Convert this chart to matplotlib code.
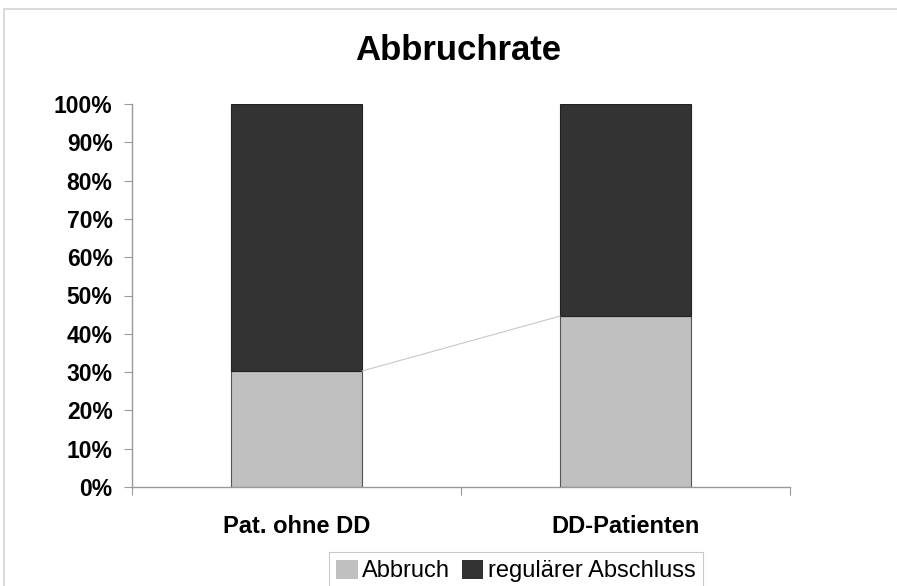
import matplotlib
matplotlib.use("Agg")
import matplotlib.pyplot as plt
from matplotlib.patches import Rectangle, Patch
from matplotlib.ticker import FuncFormatter

plt.rcParams["font.family"] = ["Liberation Sans", "DejaVu Sans"]

# data (share in %)
categories = ["Pat. ohne DD", "DD-Patienten"]
abbruch = [30.3, 44.6]
regulaer = [69.7, 55.4]
series_names = ["Abbruch", "regulärer Abschluss"]
colors = ["#c0c0c0", "#333333"]

W, H = 897, 586
fig = plt.figure(figsize=(W / 100, H / 100), dpi=100)

# outer chart frame
fig.patches.append(Rectangle((4 / W, -0.1), 1.2, 1 - 9 / H + 0.1,
                             transform=fig.transFigure, fill=False,
                             edgecolor="#d4d4d4", linewidth=1.2))

ax = fig.add_axes([132 / W, 1 - 487 / H, 658 / W, 383 / H])
x = range(len(categories))
width = 0.4
ax.bar(x, abbruch, width, color=colors[0], edgecolor="#555555", linewidth=0.8)
ax.bar(x, regulaer, width, bottom=abbruch, color=colors[1],
       edgecolor="#222222", linewidth=0.8)

# series line between the bars
ax.plot([0 + width / 2, 1 - width / 2], abbruch, color="#c8c8c8", linewidth=0.8)

ax.set_xlim(-0.5, 1.5)
ax.set_ylim(0, 100)
ax.set_yticks(range(0, 101, 10))
ax.yaxis.set_major_formatter(FuncFormatter(lambda v, p: f"{int(v)}%"))
ax.set_xticks([-0.5, 0.5, 1.5])
ax.set_xticklabels([])
ax.set_xticks(list(x), minor=True)
ax.set_xticklabels(categories, minor=True, fontsize=17, fontweight="bold")
ax.tick_params(axis="x", which="minor", length=0, pad=20)
ax.tick_params(axis="x", which="major", length=6, color="#999999", direction="out")
ax.tick_params(axis="y", length=6, color="#999999", labelsize=16.5, pad=8)
for lbl in ax.get_yticklabels():
    lbl.set_fontweight("bold")

for side in ["top", "right"]:
    ax.spines[side].set_visible(False)
for side in ["left", "bottom"]:
    ax.spines[side].set_color("#999999")
    ax.spines[side].set_linewidth(1.0)

fig.text(458 / W, 1 - 50 / H, "Abbruchrate", ha="center", va="center",
         fontsize=25, fontweight="bold")

handles = [Patch(facecolor=c, edgecolor="none") for c in colors]
leg = fig.legend(handles, series_names, loc="center",
                 bbox_to_anchor=(516 / W, 1 - 571 / H), ncol=2, fontsize=17,
                 frameon=True, fancybox=False, handlelength=0.9,
                 handleheight=0.9, handletextpad=0.2, columnspacing=0.5,
                 borderpad=0.3, borderaxespad=0)
leg.get_frame().set_edgecolor("#bbbbbb")
leg.get_frame().set_linewidth(0.8)

fig.savefig("out.png", dpi=100)
